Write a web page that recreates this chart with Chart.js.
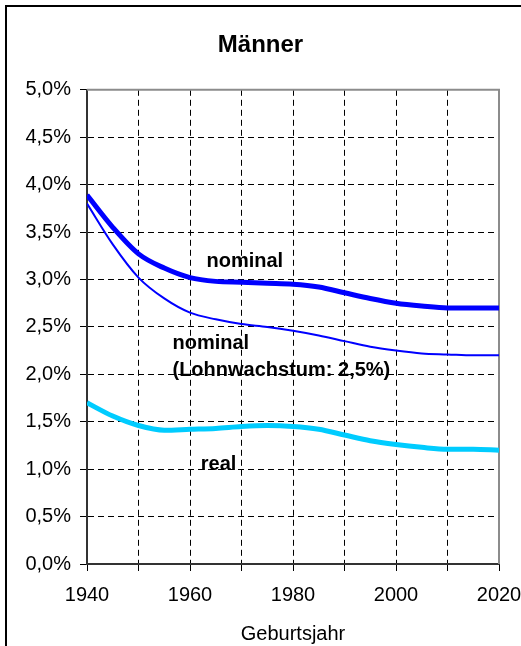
<!DOCTYPE html>
<html>
<head>
<meta charset="utf-8">
<script src="https://cdn.jsdelivr.net/npm/chart.js@4"></script>
<style>
  body { margin: 0; background: #fff; }
  canvas { display: block; }
</style>
</head>
<body>
<canvas id="chart" width="521" height="646"></canvas>
<script>
const years = [1940, 1945, 1950, 1955, 1960, 1965, 1970, 1975, 1980, 1985, 1990, 1995, 2000, 2005, 2010, 2015, 2020];
const nominal = [3.89, 3.55, 3.27, 3.12, 3.02, 2.98, 2.97, 2.96, 2.95, 2.92, 2.86, 2.80, 2.75, 2.72, 2.70, 2.70, 2.70];
const nominalLohn = [3.80, 3.37, 3.02, 2.80, 2.65, 2.58, 2.53, 2.50, 2.46, 2.41, 2.35, 2.29, 2.25, 2.22, 2.21, 2.20, 2.20];
const real = [1.70, 1.56, 1.46, 1.41, 1.42, 1.43, 1.45, 1.46, 1.45, 1.42, 1.36, 1.30, 1.26, 1.23, 1.21, 1.21, 1.20];

// text labels inside the plot: [text, year, value]
const seriesLabels = [
  ['nominal', 1963.2, 3.19],
  ['nominal', 1956.6, 2.33],
  ['(Lohnwachstum: 2,5%)', 1956.6, 2.04],
  ['real', 1962.1, 1.05]
];

const FONT = "'Liberation Sans', Arial, sans-serif";

function toPoints(vals) {
  return years.map((y, i) => ({ x: y, y: vals[i] }));
}

const frame = {
  id: 'frame',
  beforeDraw: function (chart) {
    const ctx = chart.ctx;
    ctx.save();
    ctx.fillStyle = '#fff';
    ctx.fillRect(0, 0, chart.width, chart.height);
    ctx.strokeStyle = '#000';
    ctx.lineWidth = 2;
    ctx.beginPath();
    ctx.moveTo(6, chart.height);
    ctx.lineTo(6, 6);
    ctx.lineTo(chart.width, 6);
    ctx.stroke();
    ctx.restore();
  },
  beforeDatasetsDraw: function (chart) {
    const a = chart.chartArea;
    const ctx = chart.ctx;
    ctx.save();
    ctx.strokeStyle = '#8c8c8c';
    ctx.lineWidth = 2;
    ctx.beginPath();
    ctx.moveTo(a.left, a.top);
    ctx.lineTo(a.right, a.top);
    ctx.lineTo(a.right, a.bottom);
    ctx.stroke();
    ctx.restore();
  },
  afterDatasetsDraw: function (chart) {
    const ctx = chart.ctx;
    const xs = chart.scales.x, ys = chart.scales.y;
    ctx.save();
    ctx.fillStyle = '#000';
    ctx.font = 'bold 20px ' + FONT;
    ctx.textAlign = 'left';
    ctx.textBaseline = 'middle';
    seriesLabels.forEach(function (l) {
      ctx.fillText(l[0], xs.getPixelForValue(l[1]), ys.getPixelForValue(l[2]));
    });
    ctx.restore();
  }
};

new Chart(document.getElementById('chart'), {
  type: 'line',
  data: {
    datasets: [
      { label: 'nominal', data: toPoints(nominal), borderColor: '#0000ff', borderWidth: 5 },
      { label: 'nominal (Lohnwachstum: 2,5%)', data: toPoints(nominalLohn), borderColor: '#0000ff', borderWidth: 2 },
      { label: 'real', data: toPoints(real), borderColor: '#00ccff', borderWidth: 5 }
    ]
  },
  options: {
    responsive: false,
    animation: false,
    layout: { padding: { left: 0, right: 0, top: 0, bottom: 0 } },
    elements: {
      point: { radius: 0 },
      line: { cubicInterpolationMode: 'monotone', fill: false }
    },
    plugins: {
      legend: { display: false },
      tooltip: { enabled: false },
      title: {
        display: true,
        text: 'Männer',
        color: '#000',
        font: { family: FONT, size: 24, weight: 'bold' },
        padding: { top: 31, bottom: 30 }
      }
    },
    scales: {
      x: {
        type: 'linear',
        min: 1940,
        max: 2020,
        afterFit: function (s) { s.height = 82; s.paddingRight = 22; s.paddingLeft = 0; },
        ticks: {
          stepSize: 10,
          color: '#000',
          padding: 12,
          maxRotation: 0,
          font: { family: FONT, size: 20 },
          callback: function (v) { return v % 20 === 0 ? String(v) : ''; }
        },
        grid: {
          color: function (c) { return (c.tick && (c.tick.value === 1940 || c.tick.value === 2020)) ? 'rgba(0,0,0,0)' : '#000'; },
          tickColor: '#000',
          tickLength: 7,
          lineWidth: 1
        },
        border: { color: '#333', width: 2, dash: [6, 4] },
        title: {
          display: true,
          text: 'Geburtsjahr',
          color: '#000',
          font: { family: FONT, size: 20 },
          padding: { top: 0, bottom: 0 }
        }
      },
      y: {
        min: 0,
        max: 5,
        afterFit: function (s) { s.width = 87; },
        ticks: {
          stepSize: 0.5,
          color: '#000',
          padding: 9,
          font: { family: FONT, size: 20 },
          callback: function (v) { return v.toFixed(1).replace('.', ',') + '%'; }
        },
        grid: {
          color: function (c) { return (c.tick && (c.tick.value === 0 || c.tick.value === 5)) ? 'rgba(0,0,0,0)' : '#000'; },
          tickColor: '#000',
          tickLength: 7,
          lineWidth: 1
        },
        border: { color: '#333', width: 2, dash: [6, 4] }
      }
    }
  },
  plugins: [frame]
});
</script>
</body>
</html>
